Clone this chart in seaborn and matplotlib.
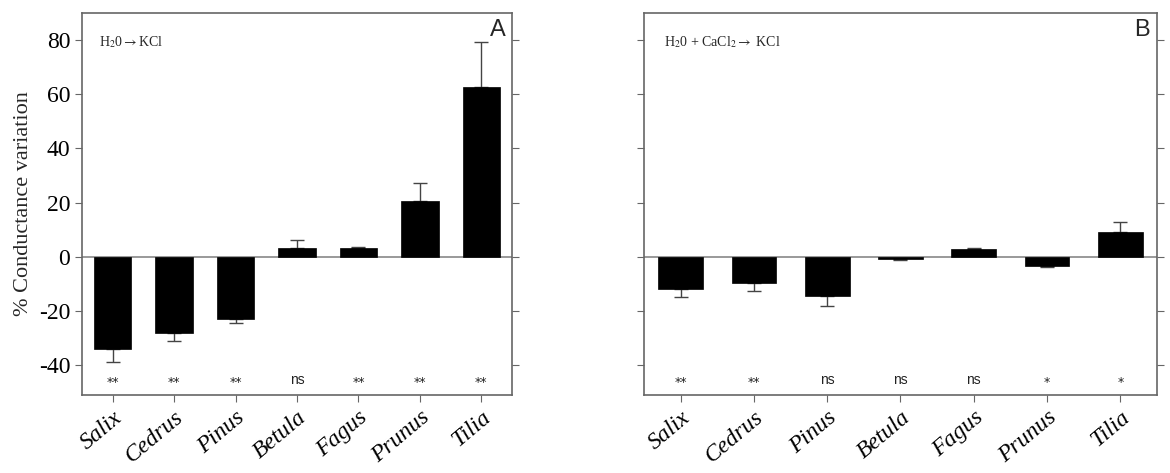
import matplotlib
matplotlib.use("Agg")
import matplotlib.pyplot as plt
import seaborn as sns
import pandas as pd
import numpy as np

genera = ["Salix", "Cedrus", "Pinus", "Betula", "Fagus", "Prunus", "Tilia"]
values_a = [-34.0, -28.2, -22.9, 3.1, 3.3, 20.7, 62.8]
errors_a = [5.0, 2.8, 1.5, 3.1, 0.5, 6.5, 16.5]
signif_a = ["**", "**", "**", "ns", "**", "**", "**"]
values_b = [-11.8, -9.7, -14.6, -0.8, 2.9, -3.2, 9.0]
errors_b = [3.2, 2.8, 3.7, 0.3, 0.4, 0.6, 4.0]
signif_b = ["**", "**", "ns", "ns", "ns", "*", "*"]
yticks = [-40, -20, 0, 20, 40, 60, 80]

sns.set_style("ticks")
serif = ["Liberation Serif", "DejaVu Serif"]
plt.rcParams["font.family"] = serif
plt.rcParams["mathtext.fontset"] = "stix"
plt.rcParams["axes.unicode_minus"] = False

fig = plt.figure(figsize=(11.7, 4.73), dpi=100)
ax_a = fig.add_axes([0.0701, 0.1649, 0.3675, 0.8076])
ax_b = fig.add_axes([0.5504, 0.1649, 0.4385, 0.8076])

panels = [
    (ax_a, values_a, errors_a, signif_a, "A", r"H$_2$0$\rightarrow$KCl", True),
    (ax_b, values_b, errors_b, signif_b, "B", r"H$_2$0 + CaCl$_2$$\rightarrow$ KCl", False),
]

for ax, vals, errs, sig, letter, note, show_y in panels:
    df = pd.DataFrame({"genus": genera, "value": vals})
    sns.barplot(data=df, x="genus", y="value", ax=ax, color="black",
                width=0.61, errorbar=None, saturation=1, edgecolor="black",
                linewidth=0.5, zorder=2)
    xs = np.arange(len(genera))
    v = np.array(vals)
    e = np.array(errs)
    lower = np.where(v < 0, e, 0)
    upper = np.where(v >= 0, e, 0)
    ax.errorbar(xs, v, yerr=[lower, upper], fmt="none", ecolor="#444444",
                elinewidth=1.0, capsize=5, capthick=1.0, zorder=1)
    ax.axhline(0, color="#888888", lw=1.2, zorder=0)
    for x, s in zip(xs, sig):
        if s == "ns":
            ax.text(x, -45.5, s, ha="center", va="center", fontsize=10,
                    family="Liberation Sans", color="#222222")
        else:
            ax.text(x, -46.5, s, ha="center", va="center", fontsize=9,
                    family="DejaVu Sans", color="#222222")
    ax.set_ylim(-51, 90)
    ax.set_xlim(-0.5, 6.5)
    ax.text(0.985, 0.985, letter, transform=ax.transAxes, ha="right", va="top",
            fontsize=17, family="Liberation Sans")
    ax.text(0.04, 0.925, note, transform=ax.transAxes, ha="left", va="center",
            fontsize=10)
    ax.set_xlabel("")
    ax.tick_params(axis="y", which="both", direction="out", length=5,
                   right=True, left=True, color="#666666", labelsize=17,
                   labelcolor="black")
    ax.tick_params(axis="x", direction="out", length=5, color="#666666",
                   labelcolor="black")
    if show_y:
        ax.set_yticks(yticks, labels=[str(t) for t in yticks])
        ax.set_ylabel("% Conductance variation", fontsize=16)
    else:
        ax.set_yticks(yticks, labels=[])
        ax.set_ylabel("")
    ax.set_xticks(xs)
    ax.set_xticklabels(genera, rotation=40, ha="right", rotation_mode="anchor",
                       fontsize=17, style="italic")
    for sp in ax.spines.values():
        sp.set_color("#666666")
        sp.set_linewidth(1.2)
        sp.set_visible(True)

fig.savefig("out.png", dpi=100)
